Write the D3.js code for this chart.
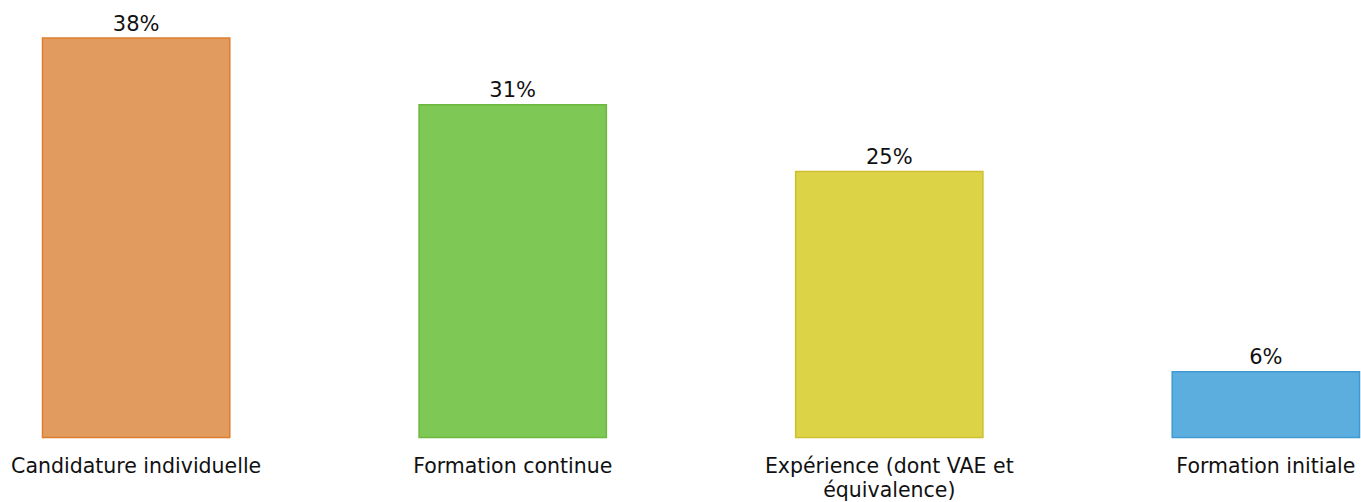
<!DOCTYPE html>
<html><head><meta charset="utf-8">
<script src="https://cdn.jsdelivr.net/npm/d3@7"></script>
<style>body{margin:0;background:#fff;} svg{display:block;} text{font-family:"DejaVu Sans",sans-serif;fill:#111;}</style>
</head><body>
<svg id="c" width="1361" height="502"></svg>
<script>
const categories = ["Candidature individuelle", "Formation continue", "Expérience (dont VAE et équivalence)", "Formation initiale"];
const values = [37.5, 31.25, 25, 6.25];
const valueLabels = ["38%", "31%", "25%", "6%"];
const fills = ["#E29B5E", "#7EC956", "#DDD347", "#5BAEDE"];
const strokes = ["#E07D2C", "#6CB83F", "#CDC030", "#3F9AD4"];

const svg = d3.select("#c");
const x = d3.scaleBand().domain(categories).range([42, 1360]).paddingInner(0.5).paddingOuter(0);
const y = d3.scaleLinear().domain([0, 40]).range([438, 10.8]);

svg.selectAll("rect.bar").data(values).join("rect")
  .attr("class","bar")
  .attr("x",(d,i)=>x(categories[i])+0.5)
  .attr("y",d=>y(d)+0.5)
  .attr("width",x.bandwidth()-1)
  .attr("height",d=>y(0)-y(d)-1)
  .attr("fill",(d,i)=>fills[i])
  .attr("stroke",(d,i)=>strokes[i])
  .attr("stroke-width",1.5);

svg.selectAll("text.val").data(values).join("text")
  .attr("class","val")
  .attr("x",(d,i)=>x(categories[i])+x.bandwidth()/2)
  .attr("y",d=>y(d)-7)
  .attr("text-anchor","middle")
  .style("font-size","21px")
  .text((d,i)=>valueLabels[i]);

const axis = d3.axisBottom(x).tickSize(0).tickPadding(0);
const g = svg.append("g").attr("transform","translate(0,438)").call(axis);
g.select(".domain").remove();
g.selectAll(".tick text").remove();
g.selectAll(".tick").each(function(d){
  const t = d3.select(this).append("text").attr("text-anchor","middle").style("font-size","20.5px");
  let lines = d === "Expérience (dont VAE et équivalence)" ? ["Expérience (dont VAE et","équivalence)"] : [d];
  lines.forEach((l,i)=>t.append("tspan").attr("x",0).attr("y",35+i*24).text(l));
});
</script>
</body></html>
